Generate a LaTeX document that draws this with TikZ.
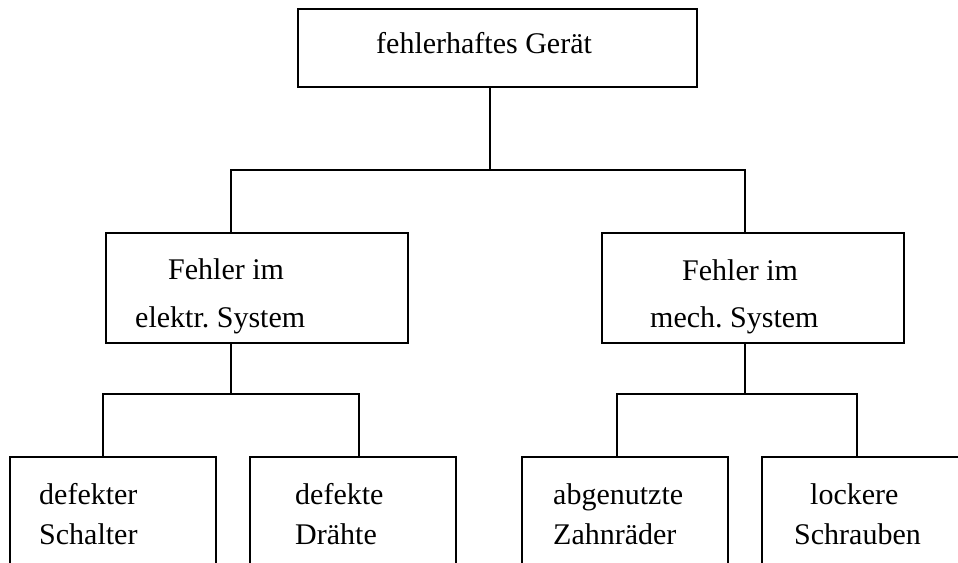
\documentclass[tikz,border=0pt]{standalone}
\usepackage{fontspec}
\setmainfont{Liberation Serif}
\frenchspacing
\usetikzlibrary{calc}
\tikzset{
  fault box/.style={draw, line width=1.8pt, inner sep=0pt, anchor=north west},
  tree line/.style={line width=1.8pt, black},
  box text/.style={anchor=base west, inner sep=0pt, font=\fontsize{30}{36}\selectfont},
}
\newcommand{\leafBox}[2]{
  \node[fault box, minimum width=206pt, minimum height=150pt] (#1) at (#2,456) {};
}

\begin{document}
\begin{tikzpicture}[x=1pt, y=-1pt]
  \useasboundingbox (0,0) rectangle (958,562);
  \clip (0,0) rectangle (958,562);
  % boxes
  \node[fault box, minimum width=399pt, minimum height=78pt] (root) at (297,8) {};
  \node[fault box, minimum width=302pt, minimum height=110pt] (elek) at (105,232) {};
  \node[fault box, minimum width=302pt, minimum height=110pt] (mech) at (601,232) {};
  \leafBox{schalter}{9}
  \leafBox{draehte}{249}
  \leafBox{zahn}{521}
  \leafBox{schraub}{761}
  % texts
  \node[box text] (rootTxt) at (376,53) {fehlerhaftes Gerät};
  \node[box text] (elekTxtA) at (168,279) {Fehler im};
  \node[box text] (elekTxtB) at (135,327) {elektr. System};
  \node[box text] (mechTxtA) at (682,280) {Fehler im};
  \node[box text] (mechTxtB) at (650,327) {mech. System};
  \node[box text] (schalterTxtA) at (39,504) {defekter};
  \node[box text] (schalterTxtB) at (39,544) {Schalter};
  \node[box text] (draehteTxtA) at (295,504) {defekte};
  \node[box text] (draehteTxtB) at (295,544) {Drähte};
  \node[box text] (zahnTxtA) at (553,504) {abgenutzte};
  \node[box text] (zahnTxtB) at (553,544) {Zahnräder};
  \node[box text] (schraubTxtA) at (810,504) {lockere};
  \node[box text] (schraubTxtB) at (794,544) {Schrauben};
  % tree lines
  \draw[tree line] ([xshift=-7.5pt]root.south) -- ([xshift=-7.5pt,yshift=-82pt]root.south);
  \draw[tree line] ([xshift=126pt]elek.north west) |- ([xshift=-7.5pt,yshift=-82pt]root.south) -| ([xshift=144pt]mech.north west);
  \draw[tree line] ([xshift=126pt]elek.south west) -- ([xshift=126pt,yshift=-50pt]elek.south west);
  \draw[tree line] ([xshift=94pt]schalter.north west) |- ([xshift=126pt,yshift=-50pt]elek.south west) -| ([xshift=110pt]draehte.north west);
  \draw[tree line] ([xshift=144pt]mech.south west) -- ([xshift=144pt,yshift=-50pt]mech.south west);
  \draw[tree line] ([xshift=96pt]zahn.north west) |- ([xshift=144pt,yshift=-50pt]mech.south west) -| ([xshift=96pt]schraub.north west);
\end{tikzpicture}
\end{document}
